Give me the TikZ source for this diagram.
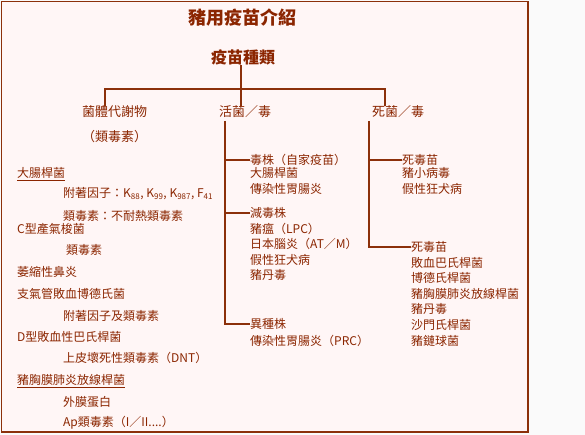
\documentclass[tikz,border=0pt]{standalone}
\usepackage{fontspec}
\usepackage{xcolor}
\usepackage{tikz}
\setmainfont{Noto Sans CJK TC}
\definecolor{vacred}{RGB}{139,37,0}
\definecolor{vacline}{RGB}{140,48,10}
\definecolor{vacback}{RGB}{255,246,246}
\definecolor{vacpage}{RGB}{250,250,250}
\newcommand{\listrow}[3]{
    (#1, #2 + 15.6 * #3)
}

\begin{document}
\begin{tikzpicture}[x=1pt, y=-1pt,
    leaf/.style={text=vacred, font=\fontsize{12}{14}\selectfont, inner sep=0pt, anchor=west},
    category/.style={leaf, font=\fontsize{13}{15}\selectfont},
    heading/.style={text=vacred, inner sep=0pt, anchor=center},
    branch/.style={draw=vacline, line width=1.6pt}]

    % Page and framed panel
    \fill[vacpage] (0,0) rectangle (585,435);
    \draw[vacline, line width=1.5pt, fill=vacback] (1.5,1.5) rectangle (528,432);

    % Titles
    \node[heading, font=\bfseries\fontsize{18}{20}\selectfont] (title) at (242,18) {豬用疫苗介紹};
    \node[heading, font=\bfseries\fontsize{16}{18}\selectfont] (types) at (243,57) {疫苗種類};

    % Three kinds of vaccine
    \node[category] (toxoid) at (82,112) {菌體代謝物};
    \node[category] (toxoidsub) at (82,137) {（類毒素）};
    \node[category] (live) at (219,112) {活菌／毒};
    \node[category] (dead) at (372,112) {死菌／毒};

    % Tree from the heading down to the three kinds
    \coordinate (barL) at (105,89);
    \coordinate (barR) at (385,89);
    \draw[branch] (types.south -| 241,0) -- (241,0 |- live.north);
    \draw[branch] (barL |- toxoid.north) -- (barL) -- (barR) -- (barR |- dead.north);

    % Live vaccines
    \node[leaf] (strain) at (250,160) {毒株（自家疫苗）};
    \node[leaf] (strain1) at (250,173) {大腸桿菌};
    \node[leaf] (strain2) at (250,189) {傳染性胃腸炎};
    \node[leaf] (atten) at (250,213) {減毒株};
    \foreach \txt [count=\i] in {豬瘟（LPC）, 日本腦炎（AT／M）, 假性狂犬病, 豬丹毒}{
        \node[leaf] (atten\i) at \listrow{250}{213}{\i} {\txt};
    }
    \node[leaf] (hetero) at (250,324) {異種株};
    \node[leaf] (hetero1) at (250,341) {傳染性胃腸炎（PRC）};

    \coordinate (liveTrunk) at (225,121);
    \draw[branch] (liveTrunk) |- (hetero.west);
    \draw[branch] (liveTrunk |- strain.west) -- (strain.west);
    \draw[branch] (liveTrunk |- atten.west) -- (atten.west);

    % Killed vaccines
    \node[leaf] (killedA) at (402,160) {死毒苗};
    \node[leaf] (killedA1) at (402,173) {豬小病毒};
    \node[leaf] (killedA2) at (402,189) {假性狂犬病};
    \node[leaf] (killedB) at (411,247) {死毒苗};
    \foreach \txt [count=\i] in {敗血巴氏桿菌, 博德氏桿菌, 豬胸膜肺炎放線桿菌, 豬丹毒, 沙門氏桿菌, 豬鏈球菌}{
        \node[leaf] (killedB\i) at \listrow{411}{247}{\i} {\txt};
    }

    \coordinate (deadTrunk) at (369,121);
    \draw[branch] (deadTrunk) |- (killedB.west);
    \draw[branch] (deadTrunk |- killedA.west) -- (killedA.west);

    % Bacterial metabolites (toxoids)
    \node[leaf] (ecoli) at (17,174) {\underline{大腸桿菌}};
    \node[leaf] (ecoliAdh) at (63,194) {附著因子：K\textsubscript{88}, K\textsubscript{99}, K\textsubscript{987}, F\textsubscript{41}};
    \node[leaf] (ecoliTox) at (63,216) {類毒素：不耐熱類毒素};
    \node[leaf] (clost) at (17,229) {C型產氣梭菌};
    \node[leaf] (clostTox) at (66,250) {類毒素};
    \node[leaf] (rhinitis) at (17,272) {萎縮性鼻炎};
    \node[leaf] (bord) at (17,294) {支氣管敗血博德氏菌};
    \node[leaf] (bordTox) at (63,316) {附著因子及類毒素};
    \node[leaf] (past) at (17,337) {D型敗血性巴氏桿菌};
    \node[leaf] (pastTox) at (63,358) {上皮壞死性類毒素（DNT）};
    \node[leaf] (app) at (17,381) {\underline{豬胸膜肺炎放線桿菌}};
    \node[leaf] (appOmp) at (63,402) {外膜蛋白};
    \node[leaf] (appTox) at (63,423) {Ap類毒素（I／II....）};

\end{tikzpicture}
\end{document}
